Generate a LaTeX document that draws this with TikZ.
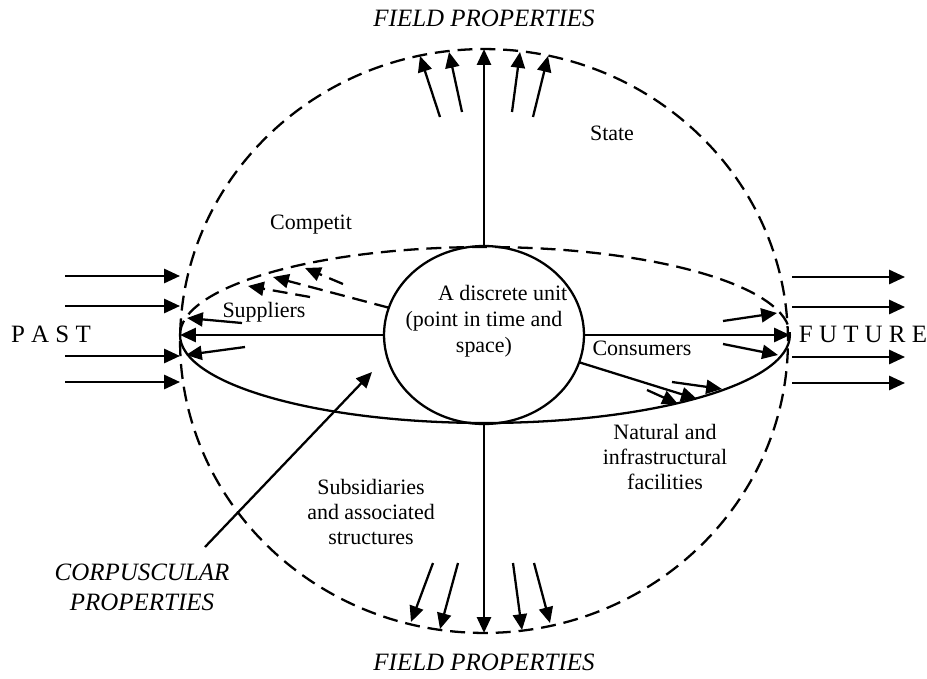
\documentclass[tikz,border=0pt]{standalone}
\usepackage{fontspec}
\setmainfont{Liberation Serif}
\usetikzlibrary{arrows.meta,shapes.geometric}

\begin{document}
\begin{tikzpicture}[
    x=0.02cm, y=-0.02cm,
    line width=1.3pt,
    txt/.style={font=\fontsize{12.5}{14.5}\selectfont, align=center, inner sep=0pt},
    title/.style={font=\fontsize{14.2}{17}\selectfont\itshape, align=center, inner sep=0pt},
    side/.style={font=\fontsize{14.2}{17}\selectfont, inner sep=0pt},
    arrow/.style={-{Triangle[length=9pt,width=8pt]}},
    dashline/.style={dash pattern=on 8.5pt off 4.5pt}
]
\useasboundingbox (0,0) rectangle (927,679);

% Outer field: dashed circle
\node[draw, dashline, ellipse, minimum width=12.16cm, minimum height=11.68cm, inner sep=0pt, outer sep=0pt] (field) at (484,341) {};

% Inner ellipse: dashed upper half, solid lower half
\coordinate (pastpt) at (180,335);
\coordinate (futpt) at (790,335);
\draw[dashline] (pastpt) arc[start angle=180, end angle=0, x radius=6.1cm, y radius=1.76cm];
\draw (pastpt) arc[start angle=180, end angle=360, x radius=6.1cm, y radius=1.76cm];

% Centre: the discrete unit
\node[draw, ellipse, minimum width=4cm, minimum height=3.56cm, inner sep=0pt, outer sep=0pt] (unit) at (484,335) {};
\node[txt, font=\fontsize{12.5}{14.8}\selectfont] (unittxt) at (484,321) {\hspace*{1.7em}A discrete unit\\(point in time and\\space)};

\draw[arrow] (unit.north) -- (field.north);
\draw[arrow] (unit.south) -- (field.south);
\draw[arrow] (unit.west) -- (pastpt);
\draw[arrow] (unit.east) -- (futpt);

% Field arrows, top and bottom
\foreach \sx/\sy/\tx/\ty [count=\i] in {440/117/420/56, 462/112/449/52, 512/112/520/52, 533/117/548/56}{
  \coordinate (up\i) at (\sx,\sy);
  \coordinate (uptip\i) at (\tx,\ty);
  \draw[arrow] (up\i) -- (uptip\i);
}
\foreach \sx/\sy/\tx/\ty [count=\i] in {433/563/411/622, 458/563/440/629, 513/563/522/630, 534/563/550/623}{
  \coordinate (down\i) at (\sx,\sy);
  \coordinate (downtip\i) at (\tx,\ty);
  \draw[arrow] (down\i) -- (downtip\i);
}

% Past and future arrows
\foreach \y [count=\i] in {276,306,356,382}{
  \coordinate (pastin\i) at (65,\y);
  \coordinate (pastend\i) at (180,\y);
  \draw[arrow] (pastin\i) -- (pastend\i);
  \coordinate (futin\i) at (792,\y+1);
  \coordinate (futend\i) at (905,\y+1);
  \draw[arrow] (futin\i) -- (futend\i);
}

% Suppliers and consumers
\foreach \sx/\sy/\tx/\ty [count=\i] in {242/323/187/318, 245/347/186/355, 723/321/777/313, 723/344/778/355}{
  \coordinate (flow\i) at (\sx,\sy);
  \coordinate (flowtip\i) at (\tx,\ty);
  \draw[arrow] (flow\i) -- (flowtip\i);
}

% Competitors (dashed)
\coordinate (comptip1) at (273,277);
\draw[arrow, dashline] (unit.164) -- (comptip1);
\coordinate (comp2) at (343,284);
\coordinate (comptip2) at (305,268);
\draw[arrow, dashline] (comp2) -- (comptip2);
\coordinate (comp3) at (310,297);
\coordinate (comptip3) at (248,286);
\draw[arrow, dashline] (comp3) -- (comptip3);

% Natural and infrastructural facilities
\coordinate (nattip1) at (697,399);
\draw[arrow] (unit.-16) -- (nattip1);
\coordinate (nat2) at (647,390);
\coordinate (nattip2) at (678,404);
\draw[arrow] (nat2) -- (nattip2);
\coordinate (nat3) at (672,382);
\coordinate (nattip3) at (722,389);
\draw[arrow] (nat3) -- (nattip3);

% Corpuscular properties
\coordinate (corptail) at (205,547);
\coordinate (corptip) at (372,372);
\draw[arrow] (corptail) -- (corptip);

% Labels
\node[title] (fieldtop) at (484,18) {FIELD PROPERTIES};
\node[title] (fieldbot) at (484,662) {FIELD PROPERTIES};
\node[side] (past) at (51,334) {P A S T};
\node[side] (future) at (863,334) {F U T U R E};
\node[txt] (state) at (612,133) {State};
\node[txt] (competit) at (311,225) {Competit};
\node[txt] (suppliers) at (264,312) {Suppliers};
\node[txt] (consumers) at (642,348) {Consumers};
\node[txt] (natural) at (665,457) {Natural and\\infrastructural\\facilities};
\node[txt] (subsid) at (371,512) {Subsidiaries\\and associated\\structures};
\node[title] (corp) at (142,587) {CORPUSCULAR\\PROPERTIES};

\end{tikzpicture}
\end{document}
